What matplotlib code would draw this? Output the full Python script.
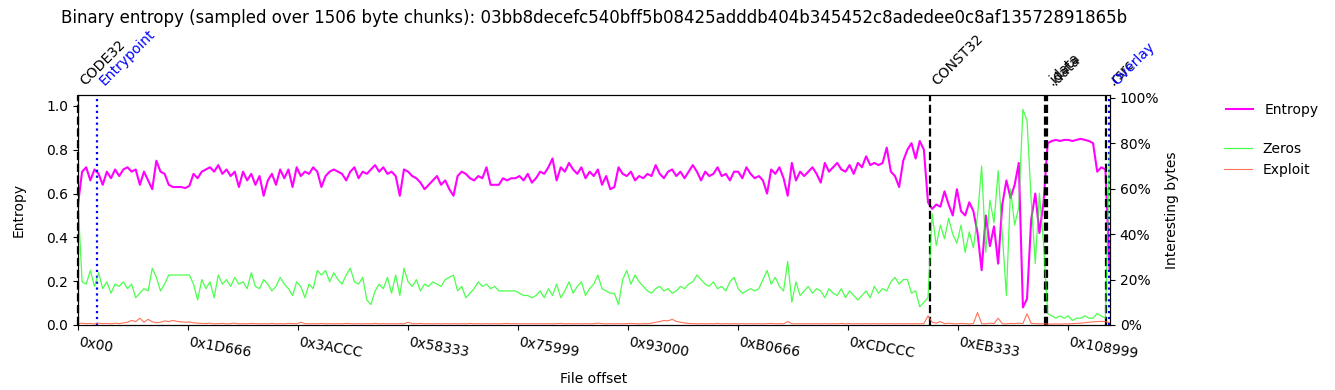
import numpy as np
import matplotlib.pyplot as plt
import matplotlib.transforms as mtransforms
from matplotlib.ticker import PercentFormatter

title = ("Binary entropy (sampled over 1506 byte chunks): "
         "03bb8decefc540bff5b08425adddb404b345452c8adedee0c8af13572891865b")

# one sample every 3 chunks of 1506 bytes
step = 3 * 1506

entropy = [
    0.55, 0.70, 0.72, 0.66, 0.71, 0.69, 0.64, 0.70, 0.67, 0.71,
    0.68, 0.71, 0.72, 0.70, 0.71, 0.64, 0.70, 0.66, 0.62, 0.75,
    0.70, 0.69, 0.64, 0.63, 0.63, 0.63, 0.625, 0.635, 0.69, 0.67,
    0.70, 0.71, 0.72, 0.70, 0.73, 0.69, 0.71, 0.68, 0.70, 0.63,
    0.70, 0.66, 0.69, 0.64, 0.68, 0.59, 0.66, 0.69, 0.64, 0.71,
    0.67, 0.71, 0.63, 0.72, 0.68, 0.70, 0.69, 0.72, 0.70, 0.63,
    0.68, 0.70, 0.71, 0.70, 0.69, 0.66, 0.70, 0.72, 0.67, 0.70,
    0.69, 0.71, 0.73, 0.70, 0.72, 0.69, 0.70, 0.68, 0.59, 0.71,
    0.70, 0.68, 0.67, 0.65, 0.62, 0.64, 0.66, 0.68, 0.64, 0.66,
    0.62, 0.59, 0.68, 0.70, 0.69, 0.67, 0.66, 0.68, 0.67, 0.72,
    0.64, 0.64, 0.64, 0.67, 0.66, 0.67, 0.67, 0.68, 0.66, 0.69,
    0.65, 0.67, 0.70, 0.69, 0.72, 0.76, 0.66, 0.72, 0.70, 0.74,
    0.71, 0.69, 0.72, 0.67, 0.70, 0.68, 0.71, 0.64, 0.68, 0.62,
    0.63, 0.72, 0.69, 0.68, 0.70, 0.66, 0.68, 0.67, 0.69, 0.68,
    0.73, 0.69, 0.67, 0.70, 0.71, 0.68, 0.70, 0.67, 0.70, 0.73,
    0.70, 0.66, 0.70, 0.68, 0.69, 0.72, 0.68, 0.69, 0.66, 0.70,
    0.70, 0.67, 0.72, 0.69, 0.67, 0.68, 0.66, 0.60, 0.71, 0.69,
    0.72, 0.67, 0.59, 0.74, 0.66, 0.70, 0.68, 0.70, 0.72, 0.69,
    0.65, 0.74, 0.70, 0.72, 0.74, 0.71, 0.70, 0.73, 0.69, 0.74,
    0.72, 0.77, 0.73, 0.74, 0.73, 0.74, 0.81, 0.70, 0.68, 0.63,
    0.75, 0.80, 0.83, 0.76, 0.84, 0.80, 0.56, 0.53, 0.55, 0.54,
    0.61, 0.55, 0.50, 0.62, 0.52, 0.50, 0.56, 0.52, 0.42, 0.25,
    0.50, 0.36, 0.45, 0.28, 0.55, 0.66, 0.58, 0.64, 0.74, 0.08,
    0.12, 0.48, 0.60, 0.42, 0.56, 0.83, 0.84, 0.845, 0.84, 0.845,
    0.845, 0.84, 0.845, 0.85, 0.845, 0.84, 0.83, 0.70, 0.72, 0.71,
    0.25,
]

zeros = [
    0.55, 0.19, 0.18, 0.24, 0.17, 0.23, 0.16, 0.19, 0.14, 0.18,
    0.17, 0.19, 0.16, 0.18, 0.12, 0.14, 0.16, 0.15, 0.25, 0.21,
    0.15, 0.18, 0.22, 0.22, 0.22, 0.22, 0.22, 0.22, 0.18, 0.11,
    0.20, 0.16, 0.19, 0.12, 0.22, 0.18, 0.20, 0.17, 0.21, 0.18,
    0.19, 0.16, 0.23, 0.17, 0.16, 0.20, 0.18, 0.15, 0.17, 0.21,
    0.18, 0.16, 0.13, 0.19, 0.17, 0.12, 0.18, 0.16, 0.24, 0.22,
    0.24, 0.19, 0.23, 0.20, 0.18, 0.22, 0.25, 0.19, 0.18, 0.21,
    0.11, 0.09, 0.15, 0.18, 0.16, 0.21, 0.14, 0.22, 0.13, 0.25,
    0.19, 0.17, 0.20, 0.15, 0.18, 0.17, 0.19, 0.18, 0.17, 0.20,
    0.21, 0.22, 0.15, 0.17, 0.12, 0.14, 0.16, 0.19, 0.17, 0.18,
    0.16, 0.17, 0.15, 0.15, 0.15, 0.15, 0.15, 0.14, 0.13, 0.13,
    0.12, 0.13, 0.15, 0.12, 0.16, 0.13, 0.18, 0.12, 0.15, 0.19,
    0.14, 0.17, 0.19, 0.13, 0.16, 0.18, 0.22, 0.16, 0.15, 0.14,
    0.14, 0.09, 0.20, 0.24, 0.18, 0.22, 0.19, 0.17, 0.15, 0.14,
    0.16, 0.17, 0.15, 0.16, 0.14, 0.15, 0.17, 0.16, 0.18, 0.19,
    0.22, 0.20, 0.18, 0.17, 0.19, 0.16, 0.17, 0.15, 0.19, 0.21,
    0.16, 0.14, 0.15, 0.16, 0.15, 0.16, 0.20, 0.24, 0.18, 0.21,
    0.17, 0.15, 0.28, 0.10, 0.19, 0.13, 0.15, 0.17, 0.14, 0.16,
    0.15, 0.12, 0.16, 0.14, 0.13, 0.16, 0.12, 0.15, 0.13, 0.11,
    0.13, 0.15, 0.12, 0.17, 0.14, 0.16, 0.15, 0.19, 0.21, 0.18,
    0.20, 0.20, 0.14, 0.15, 0.08, 0.10, 0.12, 0.49, 0.35, 0.44,
    0.38, 0.47, 0.40, 0.36, 0.44, 0.32, 0.41, 0.34, 0.48, 0.70,
    0.32, 0.55, 0.45, 0.68, 0.40, 0.13, 0.60, 0.44, 0.52, 0.95,
    0.90, 0.55, 0.27, 0.58, 0.36, 0.05, 0.04, 0.03, 0.04, 0.03,
    0.04, 0.02, 0.03, 0.03, 0.04, 0.03, 0.03, 0.05, 0.04, 0.03,
    0.77,
]

exploit = [
    0.005, 0.008, 0.006, 0.007, 0.005, 0.008, 0.006, 0.007, 0.005, 0.008,
    0.006, 0.009, 0.012, 0.020, 0.015, 0.030, 0.012, 0.025, 0.014, 0.010,
    0.012, 0.018, 0.015, 0.020, 0.016, 0.014, 0.012, 0.013, 0.010, 0.008,
    0.007, 0.006, 0.008, 0.005, 0.006, 0.007, 0.005, 0.006, 0.008, 0.005,
    0.006, 0.005, 0.007, 0.006, 0.005, 0.006, 0.005, 0.007, 0.005, 0.006,
    0.005, 0.007, 0.006, 0.005, 0.012, 0.006, 0.005, 0.006, 0.005, 0.007,
    0.005, 0.006, 0.005, 0.006, 0.005, 0.007, 0.006, 0.005, 0.006, 0.005,
    0.006, 0.005, 0.007, 0.005, 0.006, 0.005, 0.006, 0.005, 0.006, 0.005,
    0.012, 0.006, 0.005, 0.007, 0.005, 0.006, 0.005, 0.006, 0.005, 0.006,
    0.005, 0.006, 0.005, 0.006, 0.005, 0.007, 0.005, 0.006, 0.005, 0.006,
    0.005, 0.006, 0.005, 0.006, 0.007, 0.005, 0.006, 0.005, 0.006, 0.005,
    0.006, 0.005, 0.006, 0.005, 0.006, 0.005, 0.006, 0.007, 0.005, 0.006,
    0.005, 0.006, 0.005, 0.006, 0.005, 0.006, 0.008, 0.006, 0.005, 0.006,
    0.005, 0.006, 0.005, 0.006, 0.007, 0.006, 0.005, 0.006, 0.005, 0.008,
    0.012, 0.015, 0.020, 0.018, 0.025, 0.016, 0.012, 0.009, 0.007, 0.006,
    0.005, 0.006, 0.005, 0.006, 0.005, 0.007, 0.005, 0.006, 0.005, 0.006,
    0.005, 0.006, 0.005, 0.006, 0.005, 0.006, 0.005, 0.006, 0.007, 0.005,
    0.006, 0.005, 0.015, 0.006, 0.005, 0.006, 0.005, 0.006, 0.005, 0.006,
    0.005, 0.006, 0.005, 0.006, 0.005, 0.007, 0.005, 0.006, 0.005, 0.006,
    0.005, 0.006, 0.005, 0.006, 0.005, 0.006, 0.005, 0.006, 0.005, 0.006,
    0.005, 0.006, 0.005, 0.006, 0.005, 0.006, 0.040, 0.012, 0.008, 0.015,
    0.006, 0.008, 0.006, 0.005, 0.007, 0.006, 0.005, 0.006, 0.055, 0.006,
    0.005, 0.008, 0.006, 0.030, 0.006, 0.005, 0.007, 0.006, 0.008, 0.006,
    0.050, 0.007, 0.006, 0.005, 0.006, 0.004, 0.004, 0.005, 0.004, 0.005,
    0.005, 0.006, 0.007, 0.008, 0.010, 0.012, 0.014, 0.015, 0.016, 0.015,
    0.010,
]

# section boundaries (file offsets)
sections = ["CODE32", "CONST32", ".idata", ".data", ".rsrc"]
section_offsets = [0x0, 0xE3B5C, 0x10278C, 0x103230, 0x112C58]
markers = ["Entrypoint", "Overlay"]
marker_offsets = [0x5140, 0x113A88]

tick_labels = ["0x00", "0x1D666", "0x3ACCC", "0x58333", "0x75999",
               "0x93000", "0xB0666", "0xCDCCC", "0xEB333", "0x108999"]

offsets = np.arange(len(entropy)) * step

fig = plt.figure(figsize=(13.35, 3.9), dpi=100)
ax1 = fig.add_axes([0.0584, 0.1667, 0.773, 0.5897])
ax2 = ax1.twinx()

l1, = ax1.plot(offsets, entropy, color="magenta", linewidth=1.5, label="Entropy")
l2, = ax2.plot(offsets, zeros, color="lime", alpha=0.7, linewidth=0.9, label="Zeros")
l3, = ax2.plot(offsets, exploit, color="#ff5a3c", alpha=0.85, linewidth=0.8, label="Exploit")

ax1.set_xlim(0, 0x113DA0)
ax1.set_ylim(0, 1.05)
ax2.set_ylim(0, 1.013)
ax2.yaxis.set_major_formatter(PercentFormatter(xmax=1, decimals=0))

ax1.set_xticks([int(t, 16) for t in tick_labels])
ax1.set_xticklabels(tick_labels, rotation=-10, ha="left")

ax1.set_ylabel("Entropy", labelpad=15)
ax2.set_ylabel("Interesting bytes", labelpad=4)
ax1.set_xlabel("File offset", labelpad=8)
ax1.set_title(title, fontsize=12, pad=52)

trans = mtransforms.blended_transform_factory(ax1.transData, ax1.transAxes)
for name, off in zip(sections, section_offsets):
    ax1.axvline(off, color="k", linestyle="--", linewidth=1.6, clip_on=False)
    ax1.text(off, 1.03, name, rotation=45, ha="left", va="bottom",
             transform=trans, color="k")
for name, off in zip(markers, marker_offsets):
    ax1.axvline(off, color="b", linestyle=":", linewidth=1.6)
    ax1.text(off, 1.03, name, rotation=45, ha="left", va="bottom",
             transform=trans, color="b")

leg1 = ax2.legend(handles=[l1], loc="upper left", bbox_to_anchor=(1.1, 1.02),
                  frameon=False)
ax2.add_artist(leg1)
ax2.legend(handles=[l2, l3], loc="upper left", bbox_to_anchor=(1.105, 0.82),
           frameon=False, borderaxespad=0.0)

fig.savefig("out.png", dpi=100)
